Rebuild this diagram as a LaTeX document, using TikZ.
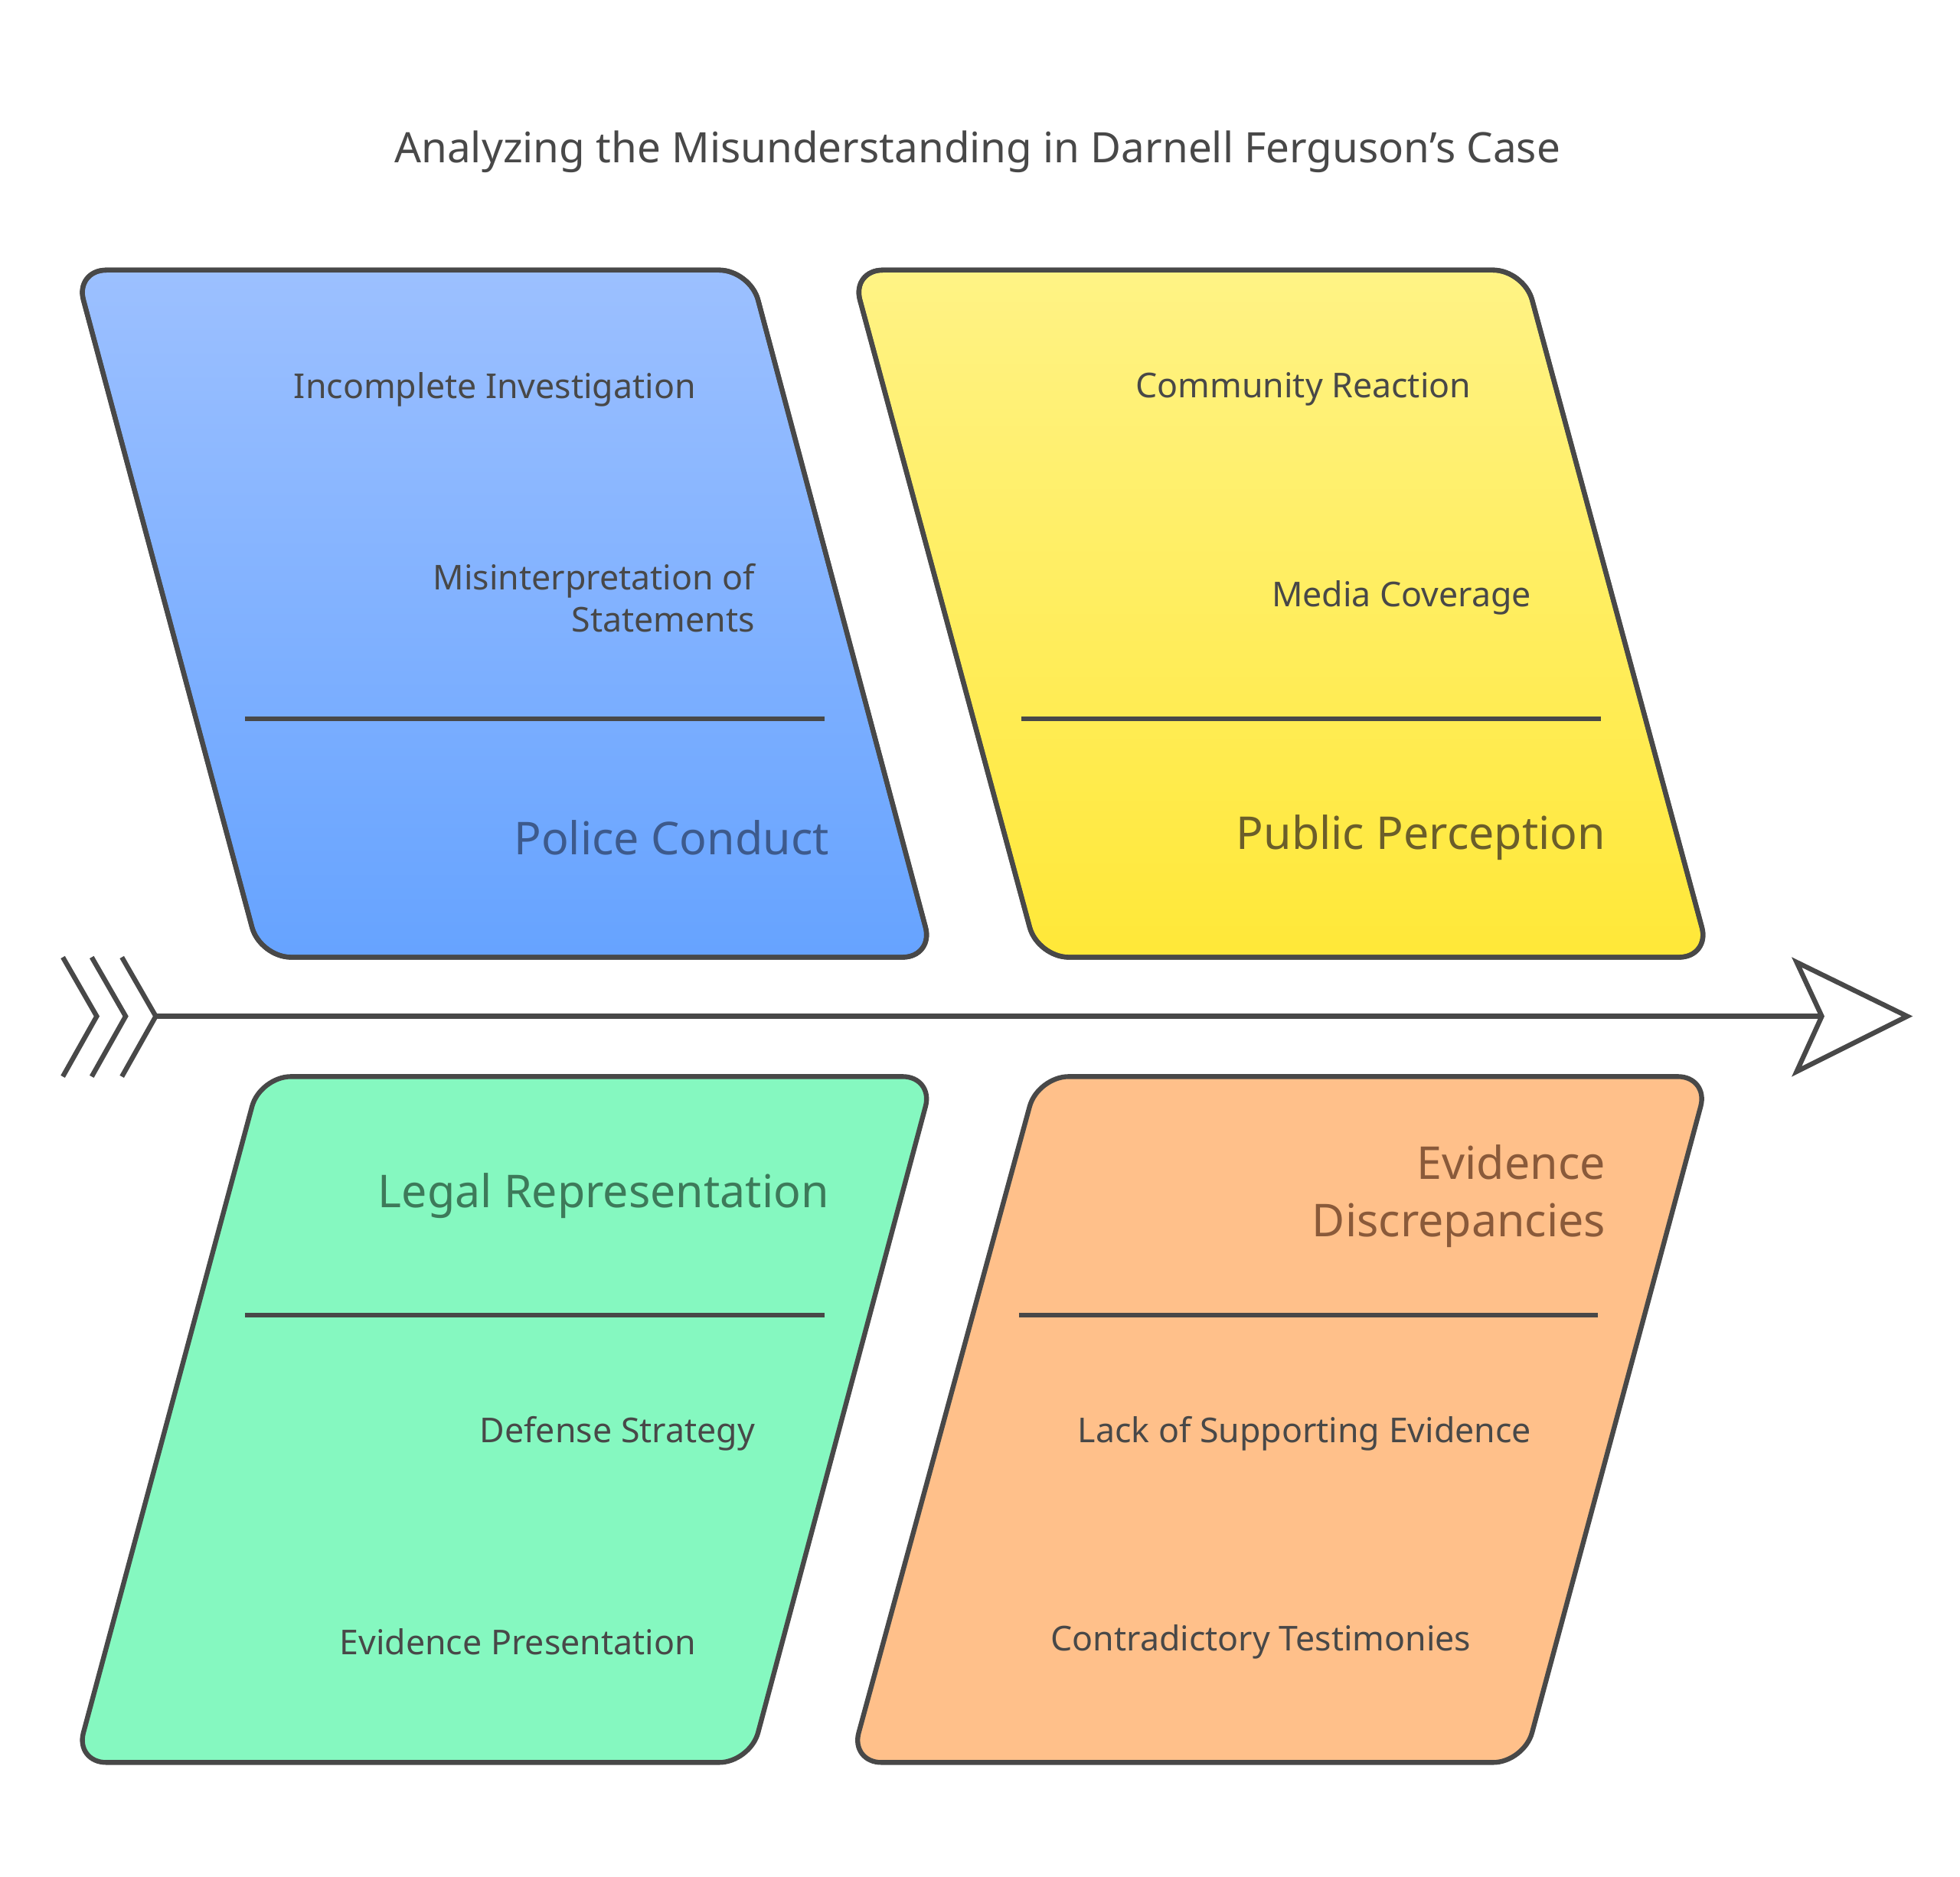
\documentclass[tikz,border=0pt]{standalone}
\usepackage{fontspec}
\setmainfont{Noto Sans}
\usepackage{tikz}
\usetikzlibrary{positioning}

\definecolor{edge}{HTML}{484848}
\definecolor{blueTop}{HTML}{9CC0FF}
\definecolor{blueBot}{HTML}{66A3FF}
\definecolor{yelTop}{HTML}{FFF385}
\definecolor{yelBot}{HTML}{FFE838}
\definecolor{greenFill}{HTML}{85F8C0}
\definecolor{orangeFill}{HTML}{FFC08A}
\definecolor{itemText}{HTML}{484848}
\definecolor{blueHead}{HTML}{3D5A8C}
\definecolor{yelHead}{HTML}{6B5E2A}
\definecolor{greenHead}{HTML}{3D7A5A}
\definecolor{orangeHead}{HTML}{8A5A3A}

\tikzset{
  bone/.style={draw=edge, line width=2.2pt, rounded corners=14pt},
  divider/.style={draw=edge, line width=2.2pt},
  item/.style={anchor=east, align=right, text=itemText, font=\fontsize{15.5}{19}\selectfont},
  head/.style={anchor=east, align=right, font=\bfseries\fontsize{20.5}{26}\selectfont},
}

\begin{document}
\begin{tikzpicture}[x=0.02cm, y=-0.02cm]
  \useasboundingbox (0,0) rectangle (1560,1494);
  % title
  \node[text=itemText, font=\bfseries\fontsize{19}{23}\selectfont] (title) at (778,121)
    {Analyzing the Misunderstanding in Darnell Ferguson's Case};

  % the four boxes
  \shade[bone, top color=blueTop, bottom color=blueBot]
    (60,215) -- (597,215) -- (743,762) -- (207,762) -- cycle;
  \shade[bone, top color=yelTop, bottom color=yelBot]
    (678,215) -- (1213,215) -- (1361,762) -- (826,762) -- cycle;
  \draw[bone] (60,215) -- (597,215) -- (743,762) -- (207,762) -- cycle;
  \draw[bone] (678,215) -- (1213,215) -- (1361,762) -- (826,762) -- cycle;
  \filldraw[bone, fill=greenFill]
    (207,857) -- (743,857) -- (597,1403) -- (60,1403) -- cycle;
  \filldraw[bone, fill=orangeFill]
    (826,857) -- (1360,857) -- (1213,1403) -- (677,1403) -- cycle;

  \draw[divider] (195,572) -- (656,572);
  \draw[divider] (813,572) -- (1274,572);
  \draw[divider] (195,1047) -- (656,1047);
  \draw[divider] (811,1047) -- (1272,1047);

  % spine
  \coordinate (tail) at (125,809);
  \coordinate (head) at (1450,809);
  \draw[divider] (tail) -- (head);
  \draw[divider, line join=miter] (1430,766) -- (1518,809) -- (1430,853) -- (head) -- cycle;
  \foreach \x in {50,73,97}
    \draw[divider] (\x,762) -- (\x+27,809) -- (\x,857);

  % labels
  \node[item] (inv) at (560,310) {Incomplete Investigation};
  \node[item] (mis) at (607,476) {Misinterpretation of\\Statements};
  \node[head, text=blueHead] (police) at (666,667) {Police Conduct};
  \node[item] (comm) at (1177,310) {Community Reaction};
  \node[item] (media) at (1225,476) {Media Coverage};
  \node[head, text=yelHead] (public) at (1284,667) {Public Perception};
  \node[head, text=greenHead] (legal) at (666,952) {Legal Representation};
  \node[item] (defense) at (607,1141) {Defense Strategy};
  \node[item] (present) at (560,1307) {Evidence Presentation};
  \node[head, text=orangeHead] (disc) at (1284,952) {Evidence\\Discrepancies};
  \node[item] (lack) at (1225,1141) {Lack of Supporting Evidence};
  \node[item] (contra) at (1177,1307) {Contradictory Testimonies};
\end{tikzpicture}
\end{document}
